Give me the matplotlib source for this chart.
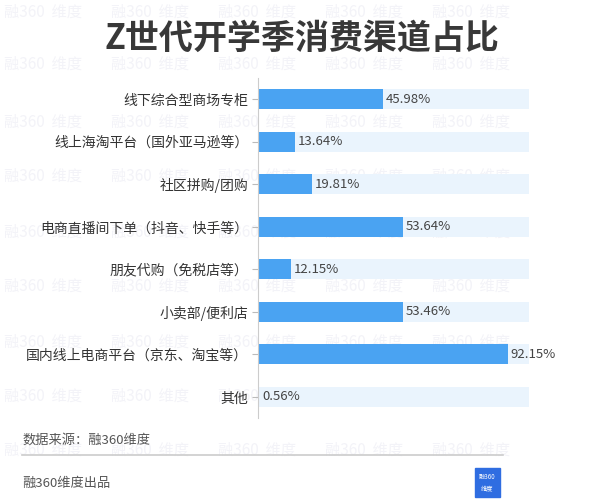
import matplotlib
matplotlib.use("Agg")
import matplotlib.pyplot as plt
from matplotlib.patches import Rectangle

plt.rcParams['font.family'] = ['Noto Sans CJK SC', 'DejaVu Sans']

categories = ["线下综合型商场专柜", "线上海淘平台（国外亚马逊等）", "社区拼购/团购",
              "电商直播间下单（抖音、快手等）", "朋友代购（免税店等）", "小卖部/便利店",
              "国内线上电商平台（京东、淘宝等）", "其他"]
values = [45.98, 13.64, 19.81, 53.64, 12.15, 53.46, 92.15, 0.56]
value_labels = ["45.98%", "13.64%", "19.81%", "53.64%", "12.15%", "53.46%", "92.15%", "0.56%"]
full = [100] * len(categories)

title = "Z世代开学季消费渠道占比"
source = "数据来源：融360维度"
footer = "融360维度出品"
watermark = "融360  维度"

fig = plt.figure(figsize=(6.04, 4.99), dpi=100)
fig.patch.set_facecolor("white")

# faint watermark tiles behind everything
for py in [12, 64, 122, 176, 232, 286, 342, 396, 450]:
    for px in [4, 111, 218, 325, 432]:
        fig.text(px / 604, 1 - py / 499, watermark, fontsize=11, color="#f3f3f8",
                 ha="left", va="center", zorder=-5)

ax = fig.add_axes([0.427, 0.162, 0.449, 0.682])
ax.set_facecolor("none")
y = list(range(len(categories)))
ax.barh(y, full, height=0.47, color="#eaf4fd", zorder=1)
ax.barh(y, values, height=0.47, color="#4aa3f2", zorder=2)
for yi, v, lab in zip(y, values, value_labels):
    ax.text(v + 1.0, yi, lab, va="center", ha="left", fontsize=9.5, color="#444444", zorder=3)

ax.set_xlim(0, 100)
ax.set_ylim(len(categories) - 0.5, -0.5)
ax.set_yticks(y)
ax.set_yticklabels(categories, fontsize=10, color="#333333")
ax.set_xticks([])
for s in ["top", "right", "bottom"]:
    ax.spines[s].set_visible(False)
ax.spines["left"].set_color("#cccccc")
ax.tick_params(axis="y", length=4, color="#bbbbbb", pad=3)

fig.text(0.5, 0.924, title, ha="center", va="center", fontsize=24.5, color="#383838", fontweight="bold")
fig.text(0.037, 0.118, source, ha="left", va="center", fontsize=9.5, color="#555555")
fig.add_artist(plt.Line2D([0.037, 0.832], [0.088, 0.088], color="#cccccc", lw=1.2, transform=fig.transFigure))
fig.text(0.037, 0.032, footer, ha="left", va="center", fontsize=9.5, color="#555555")
fig.add_artist(Rectangle((0.786, 0.004), 0.042, 0.058, transform=fig.transFigure, color="#2f6de1"))
fig.text(0.807, 0.045, "融360", ha="center", va="center", fontsize=4.5, color="white")
fig.text(0.807, 0.020, "维度", ha="center", va="center", fontsize=4.5, color="white")

fig.savefig("out.png", dpi=100)
